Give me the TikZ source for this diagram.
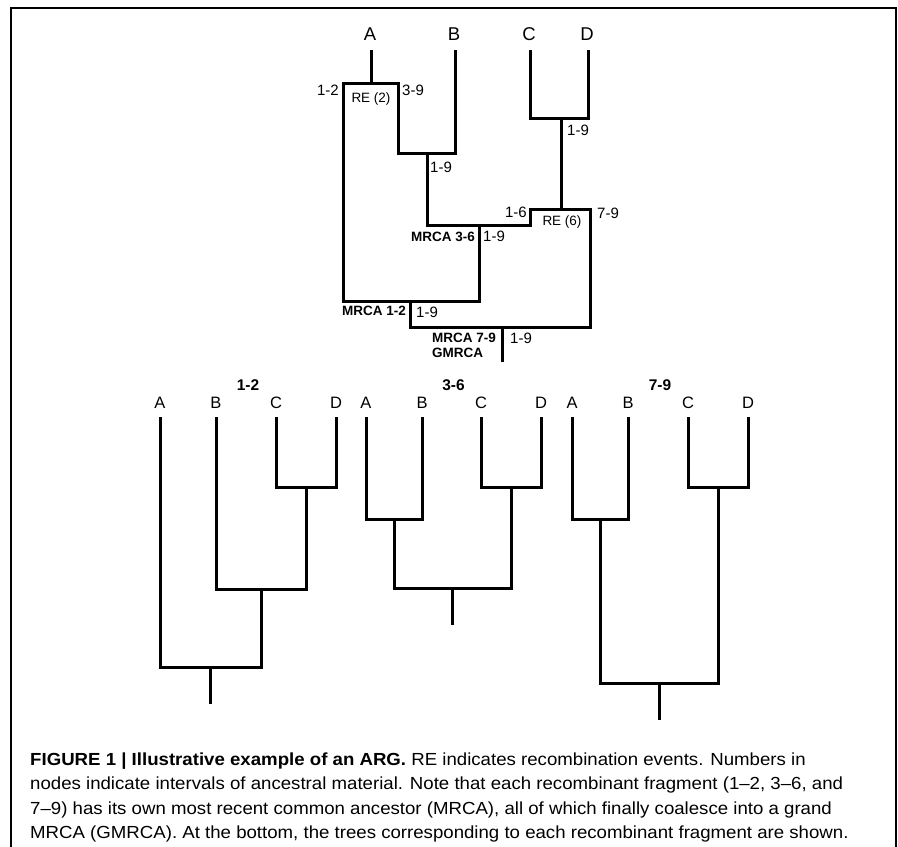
\documentclass[tikz,border=0pt]{standalone}
\usepackage{fontspec}
\setmainfont{Liberation Sans}
\newfontfamily\capfont{Liberation Sans}[FakeStretch=1.065]
\usetikzlibrary{calc}

\begin{document}
\begin{tikzpicture}[x=1pt, y=-1pt,
    br/.style={line width=3pt, line join=miter},
    leaf/.style={inner sep=0pt, anchor=base, font=\fontsize{18.5}{18.5}\selectfont},
    sleaf/.style={leaf, font=\fontsize{16.5}{16.5}\selectfont},
    iv/.style={inner sep=0pt, font=\fontsize{15}{15}\selectfont},
    re/.style={inner sep=0pt, anchor=base, font=\fontsize{13.5}{13.5}\selectfont},
    mr/.style={inner sep=0pt, font=\bfseries\fontsize{13.5}{13.5}\selectfont},
    ttl/.style={inner sep=0pt, anchor=base, font=\bfseries\fontsize{15.5}{15.5}\selectfont},
    captext/.style={inner sep=0pt, anchor=base west, font=\capfont\fontsize{17.5}{17.5}\selectfont}]

    % --- 1. 枠 ---
    \useasboundingbox (0,0) rectangle (898,847);
    \draw[line width=1.3pt] (11,870) -- (11,8) -- (896,8) -- (896,870);

    % --- 2. ARG の座標 ---
    \coordinate (tA) at (371,50);
    \coordinate (tB) at (455,50);
    \coordinate (tC) at (530,50);
    \coordinate (tD) at (588,50);
    \coordinate (re2) at (371,83);
    \coordinate (re2L) at (343,83);
    \coordinate (re2R) at (398,83);
    \coordinate (j1) at (427,153);
    \coordinate (cd) at (561,118);
    \coordinate (re6) at (561,209);
    \coordinate (re6L) at (530,209);
    \coordinate (re6R) at (590,209);
    \coordinate (m36) at (479,225);
    \coordinate (m12) at (410,301);
    \coordinate (g) at (502,327);
    \coordinate (gEnd) at (502,362);

    % --- 3. ARG の枝 ---
    \draw[br] (tA) -- (re2);
    \draw[br] (m12) -| (re2L) -- (re2R) |- (j1) -| (tB);
    \draw[br] (j1) |- (m36) -| (re6L) -- (re6R) |- (g) -| (m12);
    \draw[br] (m36) |- (m12);
    \draw[br] (tC) |- (cd) -| (tD);
    \draw[br] (cd) -- (re6);
    \draw[br] (g) -- (gEnd);

    % --- 4. ARG のラベル ---
    \foreach \t in {A,B,C,D}
        \node[leaf] (l\t) at ([shift={(-1,-10)}]t\t) {\t};
    \node[iv, anchor=base east] (i12) at ([shift={(-4,12)}]re2L) {1-2};
    \node[re] (r2) at ([shift={(0,19)}]re2) {RE (2)};
    \node[iv, anchor=base west] (i39) at ([shift={(4,12)}]re2R) {3-9};
    \node[iv, anchor=base west] (i19a) at ([shift={(3,19)}]j1) {1-9};
    \node[iv, anchor=base west] (i19b) at ([shift={(6,17)}]cd) {1-9};
    \node[iv, anchor=base east] (i16) at ([shift={(-3,8)}]re6L) {1-6};
    \node[re] (r6) at ([shift={(1,16)}]re6) {RE (6)};
    \node[iv, anchor=base west] (i79) at ([shift={(7,9)}]re6R) {7-9};
    \node[mr, anchor=base east] (m36l) at ([shift={(-4,16)}]m36) {MRCA 3-6};
    \node[iv, anchor=base west] (i19c) at ([shift={(4,16)}]m36) {1-9};
    \node[mr, anchor=base east] (m12l) at ([shift={(-4,14)}]m12) {MRCA 1-2};
    \node[iv, anchor=base west] (i19d) at ([shift={(6,16)}]m12) {1-9};
    \node[mr, anchor=base east] (m79l) at ([shift={(-6,15)}]g) {MRCA 7-9};
    \node[mr, anchor=base west] (gml) at ([shift={(0,15)}]m79l.base west) {GMRCA};
    \node[iv, anchor=base west] (i19e) at ([shift={(8,16)}]g) {1-9};

    % --- 5. 断片 1-2 の木 ---
    \foreach \n/\x in {A/160,B/216,C/276,D/336} {
        \coordinate (a\n) at (\x,417);
        \node[sleaf] (la\n) at ([shift={(0,-9)}]a\n) {\n};
    }
    \coordinate (aCD) at (306,487);
    \coordinate (aBCD) at (261,589);
    \coordinate (aR) at (210.5,667);
    \coordinate (aE) at (210.5,704);
    \draw[br] (aC) |- (aCD) -| (aD);
    \draw[br] (aB) |- (aBCD) -| (aCD);
    \draw[br] (aA) |- (aR) -| (aBCD);
    \draw[br] (aR) -- (aE);
    \node[ttl] (ttl1) at ($(aA)!.5!(aD)+(0,-27)$) {1-2};

    % --- 6. 断片 3-6 の木 ---
    \foreach \n/\x in {A/366,B/422,C/481,D/541} {
        \coordinate (b\n) at (\x,417);
        \node[sleaf] (lb\n) at ([shift={(0,-9)}]b\n) {\n};
    }
    \coordinate (bAB) at (394,519);
    \coordinate (bCD) at (511,487);
    \coordinate (bR) at (452.5,588);
    \coordinate (bE) at (452.5,625);
    \draw[br] (bA) |- (bAB) -| (bB);
    \draw[br] (bC) |- (bCD) -| (bD);
    \draw[br] (bAB) |- (bR) -| (bCD);
    \draw[br] (bR) -- (bE);
    \node[ttl] (ttl2) at ($(bA)!.5!(bD)+(0,-27)$) {3-6};

    % --- 7. 断片 7-9 の木 ---
    \foreach \n/\x in {A/572,B/628,C/688,D/748} {
        \coordinate (c\n) at (\x,417);
        \node[sleaf] (lc\n) at ([shift={(0,-9)}]c\n) {\n};
    }
    \coordinate (cAB) at (600,519);
    \coordinate (cCD) at (718,487);
    \coordinate (cR) at (659,683);
    \coordinate (cE) at (659,720);
    \draw[br] (cA) |- (cAB) -| (cB);
    \draw[br] (cC) |- (cCD) -| (cD);
    \draw[br] (cAB) |- (cR) -| (cCD);
    \draw[br] (cR) -- (cE);
    \node[ttl] (ttl3) at ($(cA)!.5!(cD)+(0,-27)$) {7-9};

    % --- 8. キャプション ---
    \node[captext] (cap1) at (30,765) {\textbf{FIGURE 1 | Illustrative example of an ARG.} RE indicates recombination events. Numbers in};
    \node[captext] (cap2) at ([shift={(0,24.5)}]cap1.base west) {nodes indicate intervals of ancestral material. Note that each recombinant fragment (1\textendash2, 3\textendash6, and};
    \node[captext] (cap3) at ([shift={(0,24.5)}]cap2.base west) {7\textendash9) has its own most recent common ancestor (MRCA), all of which finally coalesce into a grand};
    \node[captext] (cap4) at ([shift={(0,24.5)}]cap3.base west) {MRCA (GMRCA). At the bottom, the trees corresponding to each recombinant fragment are shown.};

\end{tikzpicture}
\end{document}
